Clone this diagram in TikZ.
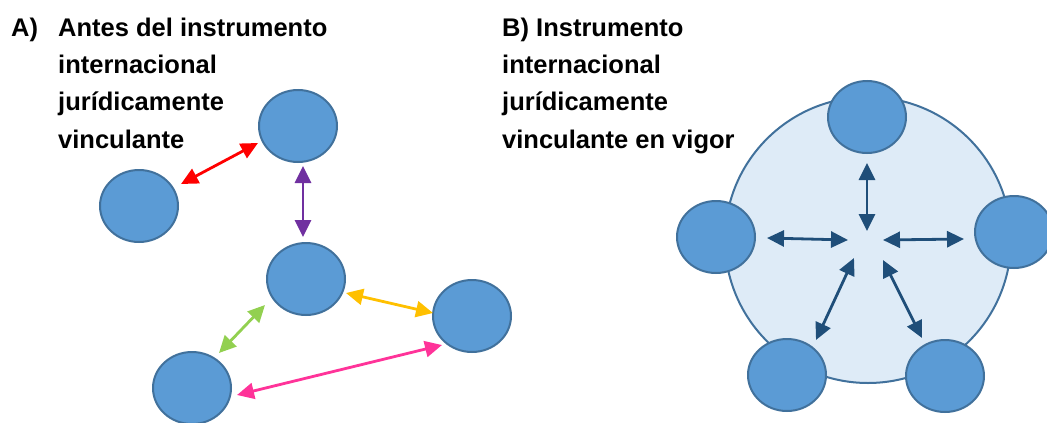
\documentclass[tikz,border=0pt]{standalone}
\usepackage{fontspec}
\setmainfont{Liberation Sans}
\usetikzlibrary{shapes.geometric,arrows.meta}
\definecolor{nodefill}{HTML}{5B9BD5}
\definecolor{nodeline}{HTML}{41719C}
\definecolor{ringfill}{HTML}{DEEBF7}
\definecolor{darkarrow}{HTML}{1F4E79}
\definecolor{redarrow}{HTML}{FF0000}
\definecolor{purplearrow}{HTML}{7030A0}
\definecolor{greenarrow}{HTML}{92D050}
\definecolor{yellowarrow}{HTML}{FFC000}
\definecolor{pinkarrow}{HTML}{FF3399}
\tikzset{
  party/.style={ellipse, draw=nodeline, fill=nodefill, line width=2pt, minimum width=78pt, minimum height=72pt, inner sep=0pt},
  link/.style={line width=2.8pt, {Triangle[length=17pt,width=16pt]}-{Triangle[length=17pt,width=16pt]}},
  title/.style={anchor=base west, align=left, inner sep=0pt, font=\fontsize{25.5}{37.3}\selectfont\bfseries},
}
\begin{document}
\begin{tikzpicture}[x=1pt,y=-1pt]
\useasboundingbox (0,0) rectangle (1047,423);
\clip (0,0) rectangle (1047,423);
% titles
\node[title] (la) at (11,36) {A)};
\node[title] (lt) at (58,148) {Antes del instrumento\\internacional\\jurídicamente\\vinculante};
\node[title] (rt) at (502,148) {B) Instrumento\\internacional\\jurídicamente\\vinculante en vigor};
% panel A
\node[party] (a1) at (298,126) {};
\node[party] (a2) at (139,206) {};
\node[party] (a3) at (306,279) {};
\node[party] (a4) at (472,316) {};
\node[party] (a5) at (192,388) {};
\coordinate (r1) at (181,184); \coordinate (r2) at (258,143);
\coordinate (p1) at (303,166); \coordinate (p2) at (303,237);
\coordinate (g1) at (265,305); \coordinate (g2) at (219,353);
\coordinate (y1) at (346,293); \coordinate (y2) at (433,313);
\coordinate (k1) at (442,345); \coordinate (k2) at (237,395);
\draw[link, redarrow] (r1) -- (r2);
\draw[link, purplearrow] (p1) -- (p2);
\draw[link, greenarrow] (g1) -- (g2);
\draw[link, yellowarrow] (y1) -- (y2);
\draw[link, pinkarrow] (k1) -- (k2);
% panel B
\node[circle, draw=nodeline, fill=ringfill, line width=2pt, minimum size=286pt, inner sep=0pt] (ring) at (868,240) {};
\node[party] (b1) at (867,117) {};
\node[party] (b2) at (716,237) {};
\node[party] (b3) at (1014,232) {};
\node[party] (b4) at (787,375) {};
\node[party] (b5) at (945,376) {};
\coordinate (c1) at (867,231);
\coordinate (c2) at (848,240);
\coordinate (c3) at (883,240);
\coordinate (c4) at (854,258);
\coordinate (c5) at (883,260);
\coordinate (d1) at (867,163);
\coordinate (d2) at (767,238);
\coordinate (d3) at (964,239);
\coordinate (d4) at (816,340);
\coordinate (d5) at (922,338);
\draw[link, darkarrow] (d1) -- (c1);
\draw[link, darkarrow] (d2) -- (c2);
\draw[link, darkarrow] (d3) -- (c3);
\draw[link, darkarrow] (d4) -- (c4);
\draw[link, darkarrow] (d5) -- (c5);
\end{tikzpicture}
\end{document}
